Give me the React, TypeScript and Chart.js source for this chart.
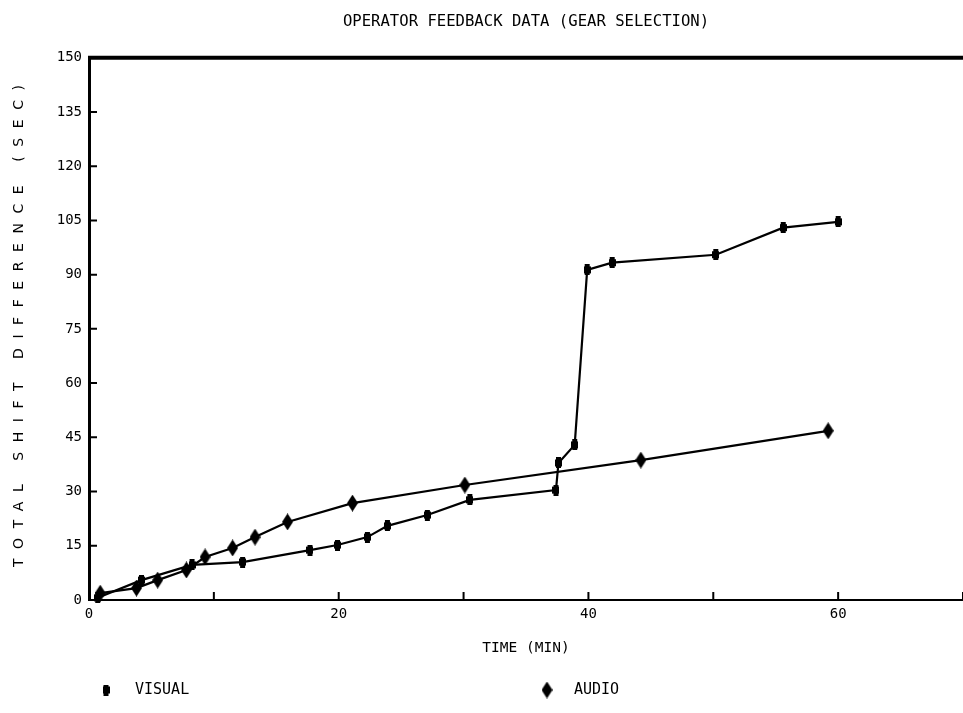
import { useEffect, useRef } from 'react';
import { Chart, registerables } from 'chart.js';

Chart.register(...registerables);

const chartTitle = 'OPERATOR FEEDBACK DATA (GEAR SELECTION)';
const xAxisTitle = 'TIME (MIN)';
const yAxisTitle = 'TOTAL SHIFT DIFFERENCE (SEC)';
const seriesNames = ['VISUAL', 'AUDIO'];

const visualTime = [0.7, 4.2, 8.25, 12.3, 17.7, 19.9, 22.3, 23.9, 27.1, 30.5, 37.4, 37.6, 38.9, 39.9, 41.9, 50.2, 55.6, 60.0];
const visualDiff = [0.6, 5.5, 9.7, 10.5, 13.8, 15.2, 17.4, 20.5, 23.5, 27.7, 30.4, 37.9, 42.9, 91.3, 93.3, 95.5, 103.0, 104.6];

const audioTime = [0.9, 3.8, 5.5, 7.8, 9.3, 11.5, 13.3, 15.9, 21.1, 30.1, 44.2, 59.2];
const audioDiff = [1.9, 3.3, 5.5, 8.3, 11.9, 14.4, 17.4, 21.6, 26.8, 31.8, 38.7, 46.8];

const xMin = 0;
const xMax = 70;
const xStep = 10;
const xLabeledTicks = [0, 20, 40, 60];
const yMin = 0;
const yMax = 150;
const yStep = 15;

const MONO = '"DejaVu Sans Mono", "Liberation Mono", monospace';

function makeBar(): HTMLCanvasElement {
  const c = document.createElement('canvas');
  c.width = 7;
  c.height = 11;
  const g = c.getContext('2d')!;
  g.fillStyle = '#000';
  g.fillRect(1, 0, 5, 11);
  g.fillRect(0, 2, 7, 7);
  return c;
}

function makeDiamond(): HTMLCanvasElement {
  const c = document.createElement('canvas');
  c.width = 11;
  c.height = 17;
  const g = c.getContext('2d')!;
  g.fillStyle = '#000';
  g.beginPath();
  g.moveTo(5.5, 0);
  g.lineTo(11, 8.5);
  g.lineTo(5.5, 17);
  g.lineTo(0, 8.5);
  g.closePath();
  g.fill();
  return c;
}

export default function App() {
  const ref = useRef<HTMLCanvasElement | null>(null);

  useEffect(() => {
    const canvas = ref.current;
    if (!canvas) return;
    const bar = makeBar();
    const diamond = makeDiamond();

    const decor = {
      id: 'decor',
      afterDraw(chart: any) {
        const { ctx, chartArea: a, scales } = chart;
        const x = scales.x;
        const y = scales.y;
        ctx.save();
        ctx.strokeStyle = '#000';
        ctx.lineWidth = 2;
        ctx.beginPath();
        y.ticks.forEach((t: any) => {
          const py = y.getPixelForValue(t.value);
          ctx.moveTo(a.left, py);
          ctx.lineTo(a.left + 8, py);
        });
        x.ticks.forEach((t: any) => {
          const px = x.getPixelForValue(t.value);
          ctx.moveTo(px, a.bottom);
          ctx.lineTo(px, a.bottom - 8);
        });
        ctx.stroke();
        // top frame line
        ctx.lineWidth = 4;
        ctx.beginPath();
        ctx.moveTo(a.left - 1, a.top);
        ctx.lineTo(a.right, a.top);
        ctx.stroke();

        // y axis title with wide letter spacing
        ctx.save();
        ctx.fillStyle = '#000';
        ctx.font = '14px "DejaVu Sans", sans-serif';
        (ctx as any).letterSpacing = '0px';
        const w0 = ctx.measureText(yAxisTitle).width;
        const span = 482;
        const ls = (span - w0) / (yAxisTitle.length - 1);
        (ctx as any).letterSpacing = ls + 'px';
        ctx.translate(19, 326);
        ctx.rotate(-Math.PI / 2);
        ctx.textAlign = 'left';
        ctx.textBaseline = 'middle';
        ctx.fillText(yAxisTitle, -span / 2, 0);
        ctx.restore();

        // legend
        ctx.fillStyle = '#000';
        ctx.font = '15px ' + MONO;
        ctx.textAlign = 'left';
        ctx.textBaseline = 'middle';
        const ly = 690;
        ctx.drawImage(bar, 106 - bar.width / 2, ly - bar.height / 2);
        ctx.fillText(seriesNames[0], 135, ly);
        ctx.drawImage(diamond, 547 - diamond.width / 2, ly - diamond.height / 2);
        ctx.fillText(seriesNames[1], 574, ly);
        ctx.restore();
      },
    };

    const chart = new Chart(canvas, {
      type: 'line',
      data: {
        datasets: [
          {
            label: seriesNames[0],
            data: visualTime.map((t, i) => ({ x: t, y: visualDiff[i] })),
            borderColor: '#000',
            backgroundColor: '#000',
            borderWidth: 2.2,
            pointStyle: bar as any,
            pointRadius: 5,
            tension: 0,
            clip: false as any,
          },
          {
            label: seriesNames[1],
            data: audioTime.map((t, i) => ({ x: t, y: audioDiff[i] })),
            borderColor: '#000',
            backgroundColor: '#000',
            borderWidth: 2.2,
            pointStyle: diamond as any,
            pointRadius: 6,
            tension: 0,
            clip: false as any,
          },
        ],
      },
      options: {
        animation: false,
        responsive: true,
        maintainAspectRatio: false,
        layout: { padding: 0, autoPadding: false },
        plugins: {
          legend: { display: false },
          tooltip: { enabled: false },
          title: {
            display: true,
            text: chartTitle,
            fullSize: false,
            color: '#000',
            font: { family: MONO, size: 15.6, weight: 'normal' },
            padding: { top: 13, bottom: 26 },
          },
        },
        scales: {
          x: {
            type: 'linear',
            min: xMin,
            max: xMax,
            grid: { display: true, drawOnChartArea: false, drawTicks: false },
            border: { display: true, color: '#000', width: 2 },
            ticks: {
              stepSize: xStep,
              autoSkip: false,
              maxRotation: 0,
              padding: 6,
              color: '#000',
              font: { family: MONO, size: 14 },
              callback: (v: any) => (xLabeledTicks.includes(Number(v)) ? String(v) : ''),
            },
            title: {
              display: true,
              text: xAxisTitle,
              color: '#000',
              font: { family: MONO, size: 14.5 },
              padding: { top: 0, bottom: 56 },
            },
            afterFit: (s: any) => {
              s.height = 113;
              s.paddingLeft = 0;
              s.paddingRight = 0;
            },
          },
          y: {
            type: 'linear',
            min: yMin,
            max: yMax,
            grid: { display: true, drawOnChartArea: false, drawTicks: false },
            border: { display: true, color: '#000', width: 3 },
            ticks: {
              stepSize: yStep,
              padding: 7,
              color: '#000',
              font: { family: MONO, size: 14 },
            },
            afterFit: (s: any) => {
              s.width = 89;
            },
          },
        },
      },
      plugins: [decor],
    } as any);

    return () => chart.destroy();
  }, []);

  return (
    <div style={{ position: 'fixed', left: 0, top: 0, width: 963, height: 713, background: '#fff' }}>
      <canvas ref={ref} />
    </div>
  );
}
